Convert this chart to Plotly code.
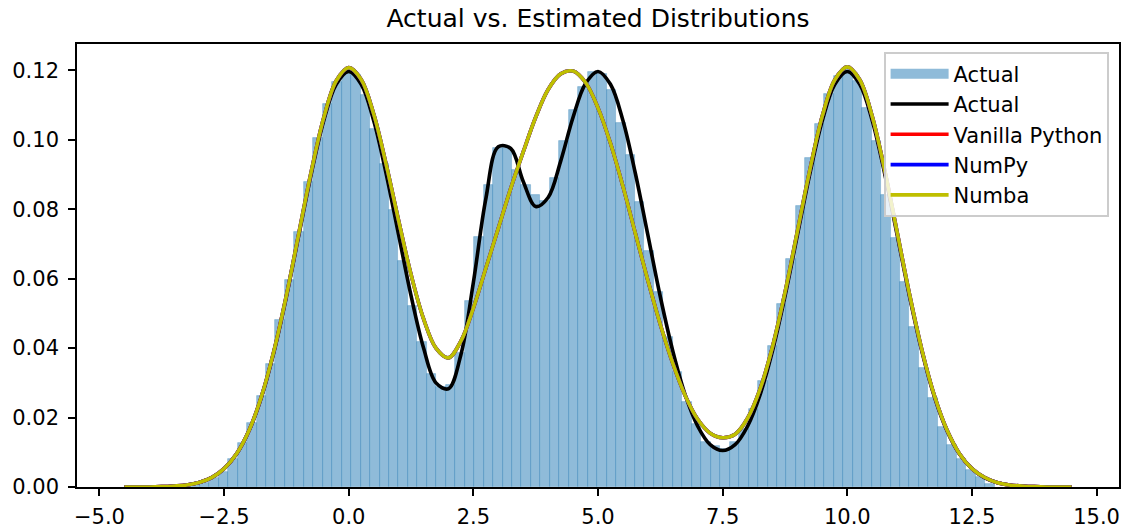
import numpy as np
import plotly.graph_objects as go

# ---------------- data ----------------
title = "Actual vs. Estimated Distributions"

# histogram (density) of the sampled data
hist_start = -3.178      # left edge of first bin
bin_width = 0.1898
hist_values = [
    0.0005, 0.0012, 0.0025, 0.0042, 0.0081, 0.0126, 0.0184, 0.0263, 0.0354, 0.0481,
    0.0596, 0.0734, 0.0879, 0.1004, 0.1102, 0.1168, 0.1193, 0.1187, 0.1130, 0.1031,
    0.0930, 0.0799, 0.0651, 0.0522, 0.0419, 0.0325, 0.0289, 0.0294, 0.0385, 0.0536,
    0.0719, 0.0870, 0.0976, 0.0977, 0.0913, 0.0870, 0.0841, 0.0824, 0.0891, 0.0997,
    0.1086, 0.1153, 0.1196, 0.1190, 0.1143, 0.1049, 0.0956, 0.0820, 0.0680, 0.0561,
    0.0431, 0.0330, 0.0244, 0.0181, 0.0129, 0.0118, 0.0109, 0.0129, 0.0167, 0.0225,
    0.0306, 0.0407, 0.0527, 0.0657, 0.0808, 0.0947, 0.1046, 0.1132, 0.1185, 0.1201,
    0.1170, 0.1092, 0.0998, 0.0841, 0.0716, 0.0591, 0.0462, 0.0343, 0.0256, 0.0173,
    0.0120, 0.0082, 0.0048, 0.0030, 0.0010,
]

# x grid of the density curves (-4.5 .. 14.5, step 0.25)
curve_x = np.linspace(-4.5, 14.5, 77)

actual_pdf = [
    0.0000, 0.0000, 0.0000, 0.0001, 0.0003, 0.0006, 0.0013, 0.0027, 0.0053, 0.0095,
    0.0162, 0.0259, 0.0389, 0.0548, 0.0726, 0.0903, 0.1056, 0.1160, 0.1197, 0.1160,
    0.1056, 0.0903, 0.0727, 0.0551, 0.0401, 0.0300, 0.0283, 0.0381, 0.0589, 0.0830,
    0.0980, 0.0975, 0.0880, 0.0808, 0.0834, 0.0938, 0.1065, 0.1162, 0.1197, 0.1160,
    0.1056, 0.0903, 0.0726, 0.0548, 0.0392, 0.0265, 0.0175, 0.0122, 0.0105, 0.0122,
    0.0175, 0.0265, 0.0392, 0.0549, 0.0726, 0.0903, 0.1056, 0.1160, 0.1197, 0.1160,
    0.1056, 0.0903, 0.0726, 0.0548, 0.0389, 0.0259, 0.0162, 0.0095, 0.0053, 0.0027,
    0.0013, 0.0006, 0.0003, 0.0001, 0.0000, 0.0000, 0.0000,
]

estimated_pdf = [
    0.0000, 0.0000, 0.0000, 0.0001, 0.0003, 0.0006, 0.0013, 0.0027, 0.0053, 0.0096,
    0.0163, 0.0261, 0.0392, 0.0552, 0.0731, 0.0910, 0.1064, 0.1170, 0.1208, 0.1174,
    0.1075, 0.0930, 0.0768, 0.0612, 0.0485, 0.0400, 0.0372, 0.0420, 0.0515, 0.0630,
    0.0745, 0.0860, 0.0965, 0.1065, 0.1145, 0.1190, 0.1198, 0.1165, 0.1092, 0.0990,
    0.0866, 0.0730, 0.0595, 0.0468, 0.0356, 0.0263, 0.0195, 0.0155, 0.0142, 0.0152,
    0.0198, 0.0282, 0.0404, 0.0560, 0.0737, 0.0914, 0.1069, 0.1173, 0.1210, 0.1173,
    0.1068, 0.0913, 0.0734, 0.0554, 0.0393, 0.0262, 0.0164, 0.0096, 0.0053, 0.0028,
    0.0013, 0.0006, 0.0003, 0.0001, 0.0000, 0.0000, 0.0000,
]
vanilla_pdf = estimated_pdf
numpy_pdf = estimated_pdf
numba_pdf = estimated_pdf

x_ticks = [-5.0, -2.5, 0.0, 2.5, 5.0, 7.5, 10.0, 12.5, 15.0]
y_ticks = [0.00, 0.02, 0.04, 0.06, 0.08, 0.10, 0.12]

# ---------------- figure ----------------
FONT = "DejaVu Sans"
BAR_COLOR = "rgba(31,119,180,0.5)"
bar_centers = [hist_start + (i + 0.5) * bin_width for i in range(len(hist_values))]

fig = go.Figure()
fig.add_trace(go.Bar(
    x=bar_centers, y=hist_values, width=bin_width, name="Actual", showlegend=False,
    marker=dict(color=BAR_COLOR, line=dict(color="rgba(31,119,180,0.35)", width=0.8)),
))
# legend handle for the histogram (wide patch, like matplotlib)
fig.add_trace(go.Scatter(x=[None], y=[None], mode="lines", name="Actual",
                         line=dict(color=BAR_COLOR, width=14)))
fig.add_trace(go.Scatter(x=curve_x, y=actual_pdf, mode="lines", name="Actual",
                         line=dict(color="black", width=3.6, shape="spline")))
fig.add_trace(go.Scatter(x=curve_x, y=vanilla_pdf, mode="lines", name="Vanilla Python",
                         line=dict(color="red", width=3.6, shape="spline")))
fig.add_trace(go.Scatter(x=curve_x, y=numpy_pdf, mode="lines", name="NumPy",
                         line=dict(color="blue", width=3.6, shape="spline")))
fig.add_trace(go.Scatter(x=curve_x, y=numba_pdf, mode="lines", name="Numba",
                         line=dict(color="#bfbf00", width=3.6, shape="spline")))

axis_common = dict(
    showgrid=False, zeroline=False, showline=True, linecolor="black", linewidth=1.6,
    mirror=True, ticks="outside", ticklen=7, tickwidth=1.6, tickcolor="black",
    automargin=False,
    tickfont=dict(family=FONT, size=21, color="black"),
)
fig.update_layout(
    width=1123, height=529,
    margin=dict(l=77, r=4, t=44, b=42, autoexpand=False),
    paper_bgcolor="white", plot_bgcolor="white",
    bargap=0,
    title=dict(text=title, x=(77 + 1119) / 2 / 1123, xanchor="center",
               y=1 - 18 / 529, yref="container", yanchor="middle",
               font=dict(family=FONT, size=25, color="black")),
    xaxis=dict(range=[-5.45, 15.45], tickvals=x_ticks, tickformat=".1f",
               ticklabelstandoff=3, **axis_common),
    yaxis=dict(range=[0, 0.1276], tickvals=y_ticks, tickformat=".2f",
               ticklabelstandoff=5, **axis_common),
    legend=dict(x=0.9904, y=0.982, xanchor="right", yanchor="top",
                bgcolor="rgba(255,255,255,0.8)", bordercolor="#cccccc", borderwidth=1.6,
                font=dict(family=FONT, size=21, color="black"), itemwidth=58),
    showlegend=True,
)

fig.write_html("out.html", config={"displayModeBar": False},
               post_script="document.body.style.margin='0px';")
